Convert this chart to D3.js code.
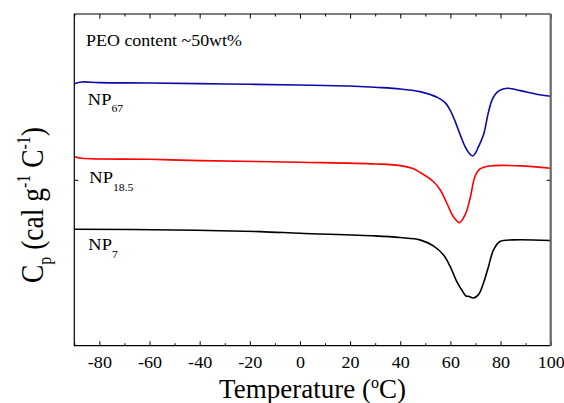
<!DOCTYPE html>
<html>
<head>
<meta charset="utf-8">
<script src="https://cdn.jsdelivr.net/npm/d3@7"></script>
<style>
  body { margin: 0; background: #fff; }
  svg text { font-family: "Liberation Serif", "Times New Roman", serif; fill: #000; }
</style>
</head>
<body>
<div id="container"></div>
<script>
// DSC traces, Cp in arbitrary units (curves offset vertically)
const np67Temp = [-90, -87, -80, -60, -30, 0, 20, 30, 40, 47.8, 52, 55, 58, 60, 62, 64, 66, 68, 68.9, 70, 71.2, 73.2, 75.1, 76.5, 78, 79.5, 81, 83.1, 87.8, 94.4, 100];
const np67Cp = [79.0, 79.5, 79.3, 79.2, 78.9, 78.6, 78.3, 77.9, 77.4, 76.6, 75.7, 74.8, 73.2, 70.9, 67.4, 63.4, 59.8, 57.6, 57.2, 58.1, 60.0, 63.6, 70.2, 73.9, 75.9, 76.9, 77.4, 77.6, 76.9, 75.8, 75.2];

const np185Temp = [-90, -87, -60, -40, 0, 30, 40, 45, 47.8, 53.2, 55.9, 58.5, 61.2, 63.6, 65.9, 67.9, 69.8, 71.8, 75.8, 87.8, 100];
const np185Cp = [57.0, 56.5, 56.2, 55.8, 55.3, 54.8, 54.3, 53.4, 52.3, 49.5, 47.0, 43.1, 38.9, 37.1, 39.5, 44.6, 51.0, 53.3, 54.2, 54.2, 53.5];

const np7Temp = [-90, -50, -16, 0, 30, 40, 47.8, 53.2, 57.2, 59.9, 62.5, 65.2, 66.2, 67.2, 69.2, 71.2, 73.2, 75.2, 77.2, 79.8, 85.1, 100];
const np7Cp = [35.1, 34.9, 34.4, 33.9, 33.1, 32.6, 31.9, 30.1, 27.4, 23.9, 19.4, 16.0, 15.0, 14.9, 14.4, 15.4, 18.9, 23.9, 28.9, 31.4, 31.9, 31.7];

const xTicks = [-80, -60, -40, -20, 0, 20, 40, 60, 80, 100];
const xMinorTicks = [-90, -70, -50, -30, -10, 10, 30, 50, 70, 90];
const yTicks = [50];

const seriesNames = ["NP", "NP", "NP"];
const seriesSubs = ["67", "18.5", "7"];
const seriesColors = ["#0a0aa8", "#ff0000", "#000000"];

const width = 564, height = 403;
const margin = { top: 14, right: 13.3, bottom: 57.3, left: 74.3 };
const innerW = width - margin.left - margin.right;
const innerH = height - margin.top - margin.bottom;

const svg = d3.select('#container').append('svg')
    .attr('width', width).attr('height', height);
const g = svg.append('g').attr('transform', `translate(${margin.left},${margin.top})`);

const x = d3.scaleLinear().domain([-90, 100]).range([0, innerW]);
const y = d3.scaleLinear().domain([0, 100]).range([innerH, 0]);

const line = d3.line()
    .x(d => x(d[0]))
    .y(d => y(d[1]))
    .curve(d3.curveCatmullRom.alpha(0.5));

const series = [
    d3.zip(np67Temp, np67Cp),
    d3.zip(np185Temp, np185Cp),
    d3.zip(np7Temp, np7Cp)
];

series.forEach((s, i) => {
    g.append('path')
        .attr('d', line(s))
        .attr('fill', 'none')
        .attr('stroke', seriesColors[i])
        .attr('stroke-width', 1.6);
});

// axes, ticks pointing inward
const styleAxis = sel => {
    sel.attr('font-family', null);
    sel.select('.domain').remove();
    sel.selectAll('line').attr('stroke', '#000');
};
g.append('g').attr('transform', `translate(0,${innerH})`)
    .call(d3.axisBottom(x).tickValues(xTicks).tickSize(-4.5).tickFormat(d => String(d)))
    .call(styleAxis)
    .call(a => a.selectAll('text')
        .attr('dy', null)
        .style('font-family', '"Liberation Serif", serif')
        .style('font-size', '16px')
        .attr('transform', 'scale(1.13,1)')
        .attr('y', 22));
g.append('g').attr('transform', `translate(0,${innerH})`)
    .call(d3.axisBottom(x).tickValues(xMinorTicks).tickSize(-2.5).tickFormat(''))
    .call(styleAxis);
g.append('g')
    .call(d3.axisTop(x).tickValues(xTicks).tickSize(-4.5).tickFormat(''))
    .call(styleAxis);
g.append('g')
    .call(d3.axisTop(x).tickValues(xMinorTicks).tickSize(-2.5).tickFormat(''))
    .call(styleAxis);
g.append('g')
    .call(d3.axisLeft(y).tickValues(yTicks).tickSize(-4).tickFormat(''))
    .call(styleAxis);
g.append('g').attr('transform', `translate(${innerW},0)`)
    .call(d3.axisRight(y).tickValues(yTicks).tickSize(-4).tickFormat(''))
    .call(styleAxis);

// frame
g.append('path')
    .attr('d', `M${innerW},0H0V${innerH}H${innerW}`)
    .attr('fill', 'none').attr('stroke', '#000').attr('stroke-width', 1.2);
g.append('line')
    .attr('x1', innerW).attr('x2', innerW).attr('y1', 0).attr('y2', innerH)
    .attr('stroke', '#666').attr('stroke-width', 2.2);

// annotations
const note = (tx, ty, parts, size) => {
    const t = g.append('text')
        .attr('transform', `translate(${tx},${ty}) scale(1.12,1)`)
        .style('font-size', size + 'px');
    parts(t);
    return t;
};
note(x(-85.3), y(90.4), t => t.text('PEO content ~50wt%'), 16);

const labelPos = [[-84.6, 72.6], [-84.0, 49.0], [-84.4, 28.8]];
const subDrop = [7, 8, 8];
labelPos.forEach((p, i) => {
    note(x(p[0]), y(p[1]), t => {
        t.append('tspan').text(seriesNames[i]);
        t.append('tspan').attr('dy', subDrop[i]).style('font-size', '10.5px').text(seriesSubs[i]);
    }, 16.5);
});

// axis titles
svg.append('text')
    .attr('x', margin.left + innerW / 2).attr('y', 397.5)
    .attr('text-anchor', 'middle').style('font-size', '27px')
    .call(t => {
        t.append('tspan').text('Temperature (');
        t.append('tspan').attr('dy', -10).style('font-size', '16px').text('o');
        t.append('tspan').attr('dy', 10).text('C)');
    });

svg.append('text')
    .attr('transform', 'translate(43,205) rotate(-90) scale(1,1.18)')
    .attr('text-anchor', 'middle').style('font-size', '27.5px')
    .call(t => {
        t.append('tspan').text('C');
        t.append('tspan').attr('dy', 7).style('font-size', '16px').text('p');
        t.append('tspan').attr('dy', -7).text(' (cal g');
        t.append('tspan').attr('dy', -11).style('font-size', '16px').text('-1');
        t.append('tspan').attr('dy', 11).text(' C');
        t.append('tspan').attr('dy', -11).style('font-size', '16px').text('-1');
        t.append('tspan').attr('dy', 11).text(')');
    });
</script>
</body>
</html>
